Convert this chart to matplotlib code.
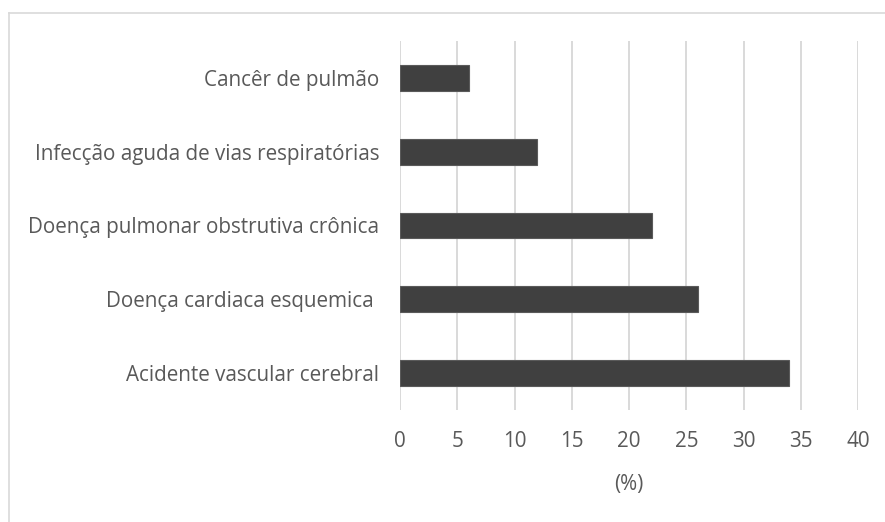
import matplotlib
matplotlib.use("Agg")
import matplotlib.pyplot as plt
from matplotlib.lines import Line2D

categories = [
    "Acidente vascular cerebral",
    "Doença cardiaca esquemica ",
    "Doença pulmonar obstrutiva crônica",
    "Infecção aguda de vias respiratórias",
    "Cancêr de pulmão",
]
values = [34, 26, 22, 12, 6]
x_ticks = [0, 5, 10, 15, 20, 25, 30, 35, 40]

plt.rcParams["font.family"] = ["Open Sans", "DejaVu Sans"]

fig = plt.figure(figsize=(8.85, 5.22), dpi=100)
ax = fig.add_axes([0.452, 0.2146, 0.5175, 0.7069])

ax.barh(range(len(categories)), values, height=0.35, color="#404040",
        edgecolor="#5a5a5a", linewidth=0.8, zorder=3)

ax.set_xlim(0, 40)
ax.set_ylim(-0.5, len(categories) - 0.5)
ax.set_xticks(x_ticks)
ax.set_xticklabels([str(t) for t in x_ticks])
ax.set_yticks(range(len(categories)))
ax.set_yticklabels(categories)

ax.grid(axis="x", color="#d9d9d9", linewidth=1.4, zorder=0)
for s in ax.spines.values():
    s.set_visible(False)
ax.tick_params(axis="both", length=0, colors="#595959", labelsize=14.9)
ax.tick_params(axis="y", pad=15)
ax.tick_params(axis="x", pad=15)
ax.set_xlabel("(%)", fontsize=14.9, color="#595959", labelpad=16)

# light outer frame along top and left edges
fig.add_artist(Line2D([9 / 885, 1.0], [1 - 13 / 522, 1 - 13 / 522],
                      transform=fig.transFigure, color="#d9d9d9", linewidth=1.2))
fig.add_artist(Line2D([9 / 885, 9 / 885], [0.0, 1 - 13 / 522],
                      transform=fig.transFigure, color="#d9d9d9", linewidth=1.2))

fig.savefig("out.png", dpi=100)
